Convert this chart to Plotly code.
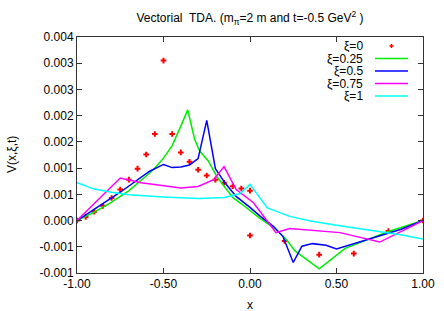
import plotly.graph_objects as go

# ---- data ----
x_xi0 = [-1.0, -0.95, -0.9, -0.85, -0.8, -0.75, -0.7, -0.65, -0.6, -0.55, -0.5, -0.45, -0.4,
         -0.35, -0.3, -0.25, -0.2, -0.15, -0.1, -0.05, 0.0, 0.0, 0.2, 0.4, 0.6, 0.8, 1.0]
y_xi0 = [0.0, 0.00007, 0.00017, 0.00028, 0.00043, 0.00059, 0.00078, 0.00099, 0.00126, 0.00165,
         0.00305, 0.00165, 0.0013, 0.00112, 0.00097, 0.00086, 0.00078, 0.00072, 0.000655, 0.00061,
         0.00057, -0.000285, -0.00039, -0.00065, -0.00063, -0.0002, 0.0]

x_xi025 = [-1.0, -0.9, -0.8, -0.7, -0.6, -0.55, -0.5, -0.45, -0.4, -0.375, -0.36, -0.32, -0.29,
           -0.24, -0.19, -0.1, -0.05, 0.05, 0.15, 0.21, 0.26, 0.4, 0.55, 0.8, 1.0]
y_xi025 = [0.0, 0.00016, 0.00035, 0.00057, 0.00085, 0.001, 0.00119, 0.00143, 0.0018, 0.002, 0.00211,
           0.00155, 0.00132, 0.00113, 0.00083, 0.00044, 0.00032, 0.00006, -0.00017, -0.00036, -0.00058,
           -0.00092, -0.00053, -0.00021, 0.0]

x_xi05 = [-1.0, -0.75, -0.58, -0.5, -0.45, -0.4, -0.35, -0.3, -0.25, -0.2, -0.145, -0.08, 0.0,
          0.06, 0.135, 0.19, 0.25, 0.3, 0.36, 0.44, 0.5, 0.66, 0.87, 1.0]
y_xi05 = [0.0, 0.00054, 0.00094, 0.00107, 0.00101, 0.00102, 0.00106, 0.00118, 0.00191, 0.00099,
          0.00072, 0.00046, 0.00025, 0.00008, -0.00011, -0.0003, -0.0008, -0.00049, -0.00044,
          -0.00047, -0.00054, -0.00038, -0.00017, 0.0]

x_xi075 = [-1.0, -0.75, -0.63, -0.5, -0.4, -0.3, -0.21, -0.15, -0.08, 0.02, 0.15, 0.23, 0.52, 0.75, 1.0]
y_xi075 = [0.0, 0.00081, 0.00072, 0.00066, 0.00062, 0.00065, 0.00078, 0.00103, 0.00059, 0.00034,
           -0.00023, -0.00015, -0.00023, -0.00041, 0.0]

x_xi1 = [-1.0, -0.9, -0.8, -0.7, -0.5, -0.3, -0.15, -0.06, 0.0, 0.1, 0.23, 0.35, 0.5, 0.7, 0.87, 1.0]
y_xi1 = [0.00072, 0.0006, 0.00054, 0.00049, 0.00045, 0.00042, 0.00044, 0.00051, 0.00069, 0.00024,
         0.00008, -0.00001, -0.00009, -0.00018, -0.00027, -0.00035]

legend_names = ["ξ=0", "ξ=0.25", "ξ=0.5", "ξ=0.75", "ξ=1"]
colors = ["#ff0000", "#00ee00", "#0000ff", "#ff00ff", "#00ffff"]

x_tickvals = [-1.0, -0.5, 0.0, 0.5, 1.0]
x_ticktext = ["-1.00", "-0.50", "0.00", "0.50", "1.00"]
y_tickvals = [-0.001, -0.0005, 0.0, 0.0005, 0.001, 0.0015, 0.002, 0.0025, 0.003, 0.0035]
y_ticktext = ["-0.001", "-0.001", "0.000", "0.001", "0.001", "0.002", "0.002", "0.003", "0.003", "0.004"]

FONT = "Liberation Sans, Arial, sans-serif"

fig = go.Figure()
fig.add_trace(go.Scatter(x=x_xi0, y=y_xi0, mode="markers", name=legend_names[0],
                         marker=dict(symbol="cross-thin", size=4, color=colors[0],
                                     line=dict(color=colors[0], width=2))))
for xs, ys, nm, c in [(x_xi025, y_xi025, legend_names[1], colors[1]),
                      (x_xi05, y_xi05, legend_names[2], colors[2]),
                      (x_xi075, y_xi075, legend_names[3], colors[3]),
                      (x_xi1, y_xi1, legend_names[4], colors[4])]:
    fig.add_trace(go.Scatter(x=xs, y=ys, mode="lines", name=nm, line=dict(color=c, width=1.5)))

# manual gnuplot-style key (text right aligned, sample on the right)
W, H = 346.0, 236.0
row_py = [46, 58.5, 71, 83.5, 96]
annotations = []
shapes = []
for i, (nm, c) in enumerate(zip(legend_names, colors)):
    yp = (273 - row_py[i]) / H
    annotations.append(dict(x=(364 - 77) / W, y=yp, xref="paper", yref="paper", text=nm,
                            showarrow=False, xanchor="right", yanchor="middle", height=12,
                            borderpad=0,
                            font=dict(family=FONT, size=12, color="#000")))
    if i == 0:
        cx = (391.5 - 77) / W
        shapes.append(dict(type="line", xref="paper", yref="paper", x0=cx - 2 / W, x1=cx + 2 / W,
                           y0=yp, y1=yp, line=dict(color=c, width=1.5)))
        shapes.append(dict(type="line", xref="paper", yref="paper", x0=cx, x1=cx,
                           y0=yp - 2 / H, y1=yp + 2 / H, line=dict(color=c, width=1.5)))
    else:
        shapes.append(dict(type="line", xref="paper", yref="paper", x0=(375 - 77) / W, x1=(408 - 77) / W,
                           y0=yp, y1=yp, line=dict(color=c, width=1.5)))

# axis titles as annotations (gnuplot positions)
annotations.append(dict(x=0.5, y=-(305 - 273) / H, xref="paper", yref="paper", text="x",
                        showarrow=False, xanchor="center", yanchor="middle",
                        font=dict(family=FONT, size=12, color="#000")))
annotations.append(dict(x=-(77 - 12) / W, y=(273 - 155) / H, xref="paper", yref="paper",
                        text="V(x,ξ,t)", textangle=-90, showarrow=False, xanchor="center",
                        yanchor="middle", font=dict(family=FONT, size=12, color="#000")))

fig.update_layout(
    width=444, height=311,
    margin=dict(l=77, r=21, t=37, b=38, autoexpand=False),
    paper_bgcolor="white", plot_bgcolor="white",
    showlegend=False,
    font=dict(family=FONT, size=12, color="#000"),
    title=dict(text="Vectorial\u00a0 TDA. (m<sub>π</sub>=2 m and t=-0.5 GeV<sup>2</sup> )",
               x=0.5, xref="paper", xanchor="center", y=1 - 18 / 311, yanchor="middle",
               font=dict(family=FONT, size=12, color="#000")),
    annotations=annotations,
    shapes=shapes,
)
fig.update_xaxes(range=[-1, 1], tickvals=x_tickvals, ticktext=x_ticktext, showgrid=False, zeroline=False,
                 showline=True, linecolor="#333", linewidth=1, mirror="ticks", ticks="inside", ticklen=5,
                 tickcolor="#333", automargin=False, tickfont=dict(size=12))
fig.update_yaxes(range=[-0.001, 0.0035], tickvals=y_tickvals, ticktext=y_ticktext, showgrid=False,
                 zeroline=False, showline=True, linecolor="#333", linewidth=1, mirror="ticks",
                 ticks="inside", ticklen=5, tickcolor="#333", automargin=False,
                 tickfont=dict(size=12))

fig.write_html("out.html", config={"displayModeBar": False},
               post_script="document.body.style.margin='0px';document.body.style.padding='0px';")
